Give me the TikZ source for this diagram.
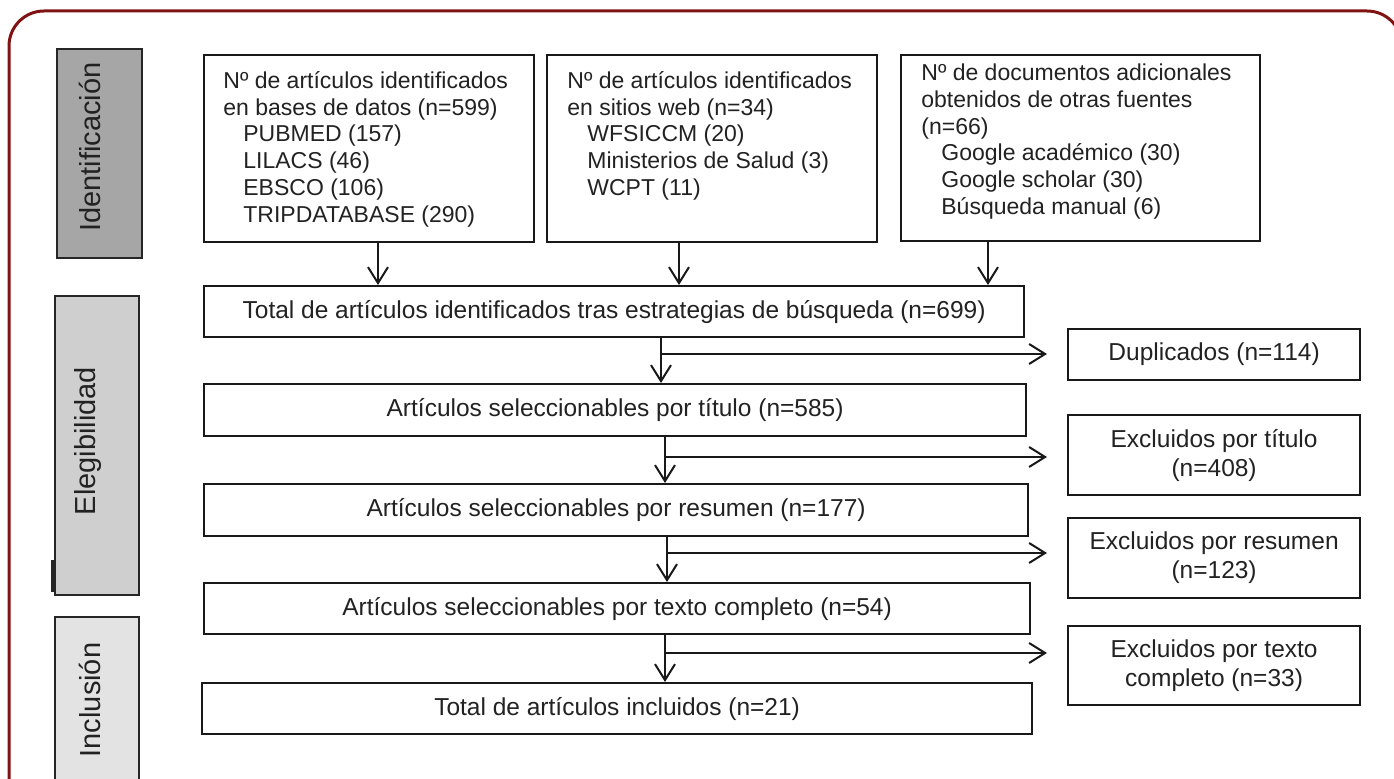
\documentclass[tikz,border=0pt]{standalone}
\usepackage{fontspec}
\setmainfont{Liberation Sans}
\usetikzlibrary{arrows.meta}
\definecolor{framered}{RGB}{128,18,18}
\definecolor{txt}{RGB}{34,34,34}
\definecolor{tabA}{RGB}{166,166,166}
\definecolor{tabB}{RGB}{207,207,207}
\definecolor{tabC}{RGB}{227,227,227}
\begin{document}
\begin{tikzpicture}[x=0.5pt,y=-0.5pt,
  box/.style={draw=black!90, line width=1.1pt, fill=white, inner sep=0pt, anchor=north west},
  srctext/.style={inner sep=0pt, text=txt, align=left, anchor=north west, font=\fontsize{11.5pt}{13.4pt}\selectfont},
  boxtext/.style={inner sep=0pt, text=txt, font=\fontsize{12.25pt}{14pt}\selectfont},
  rtext/.style={inner sep=0pt, text=txt, align=center, font=\fontsize{12.25pt}{14.5pt}\selectfont},
  tab/.style={draw=black!85, line width=1.1pt, inner sep=0pt, anchor=north west},
  tabtext/.style={rotate=90, inner sep=0pt, text=txt, font=\fontsize{14.5pt}{17pt}\selectfont},
  arr/.style={line width=1pt, draw=black!90, -{Straight Barb[length=8pt,width=10pt,line width=1pt]}},
]
\useasboundingbox (0,0) rectangle (1394,779);
\begin{scope}
  \clip (0,0) rectangle (1394,779);
  \draw[framered, line width=1.5pt, rounded corners=17.5pt] (9,11) rectangle (1402,830);
  \node[tab, fill=tabC, minimum width=42pt, minimum height=90pt] (inc) at (54,616) {};
\end{scope}
% phase tabs
\node[tab, fill=tabA, minimum width=42.5pt, minimum height=104.5pt] (ide) at (56,48) {};
\node[tab, fill=tabB, minimum width=42pt, minimum height=149.5pt] (ele) at (54,295) {};
\fill[black!85] (51,560) rectangle (55,592);
\node[tabtext] (ideT) at (90,147) {Identificación};
\node[tabtext] (eleT) at (88,441) {Elegibilidad};
\node[tabtext] (incT) at (90,700) {Inclusión};
% source boxes
\node[box, minimum width=165pt, minimum height=93.5pt] (A) at (203,54) {};
\node[box, minimum width=165pt, minimum height=93.5pt] (B) at (546,54) {};
\node[box, minimum width=179.5pt, minimum height=93pt] (C) at (900,54) {};
\node[srctext] (At) at (223,71)
  {Nº de artículos identificados\\en bases de datos (n=599)\\
   \hspace*{10pt}PUBMED (157)\\\hspace*{10pt}LILACS (46)\\
   \hspace*{10pt}EBSCO (106)\\\hspace*{10pt}TRIPDATABASE (290)};
\node[srctext] (Bt) at (567,71)
  {Nº de artículos identificados\\en sitios web (n=34)\\
   \hspace*{10pt}WFSICCM (20)\\\hspace*{10pt}Ministerios de Salud (3)\\
   \hspace*{10pt}WCPT (11)};
\node[srctext] (Ct) at (921,63.5)
  {Nº de documentos adicionales\\obtenidos de otras fuentes\\(n=66)\\
   \hspace*{10pt}Google académico (30)\\\hspace*{10pt}Google scholar (30)\\
   \hspace*{10pt}Búsqueda manual (6)};
% main chain
\node[box, minimum width=410pt, minimum height=25.5pt] (T) at (203,285) {};
\node[boxtext] (Tt) at (T.center) {Total de artículos identificados tras estrategias de búsqueda (n=699)};
\node[box, minimum width=411pt, minimum height=26pt] (S1) at (203,383) {};
\node[boxtext] (S1t) at (S1.center) {Artículos seleccionables por título (n=585)};
\node[box, minimum width=412pt, minimum height=26pt] (S2) at (203,483) {};
\node[boxtext] (S2t) at (S2.center) {Artículos seleccionables por resumen (n=177)};
\node[box, minimum width=413pt, minimum height=25.5pt] (S3) at (203,582) {};
\node[boxtext] (S3t) at (S3.center) {Artículos seleccionables por texto completo (n=54)};
\node[box, minimum width=415pt, minimum height=25.5pt] (I) at (201,682) {};
\node[boxtext] (It) at (I.center) {Total de artículos incluidos (n=21)};
% excluded boxes
\node[box, minimum width=146pt, minimum height=25.5pt] (D) at (1067,328) {};
\node[rtext] (Dt) at (D.center) {Duplicados (n=114)};
\node[box, minimum width=146pt, minimum height=40pt] (E1) at (1067,414) {};
\node[rtext] (E1t) at (E1.center) {Excluidos por título\\(n=408)};
\node[box, minimum width=146pt, minimum height=40pt] (E2) at (1067,517) {};
\node[rtext] (E2t) at (E2.center) {Excluidos por resumen\\(n=123)};
\node[box, minimum width=146pt, minimum height=39.5pt] (E3) at (1067,625) {};
\node[rtext] (E3t) at (E3.center) {Excluidos por texto\\completo (n=33)};
% arrows from sources
\coordinate (a1) at (378,241);
\coordinate (a2) at (679,241);
\coordinate (a3) at (988,241);
\draw[arr] (a1) -- (a1 |- T.north);
\draw[arr] (a2) -- (a2 |- T.north);
\draw[arr] (a3) -- (a3 |- T.north);
% chain arrows
\coordinate (v1) at (661,336);
\coordinate (v2) at (665,435);
\coordinate (v3) at (667,535);
\coordinate (v4) at (665,633);
\draw[arr] (v1) -- (v1 |- S1.north);
\draw[arr] (v2) -- (v2 |- S2.north);
\draw[arr] (v3) -- (v3 |- S3.north);
\draw[arr] (v4) -- (v4 |- I.north);
% branches
\coordinate (b1) at (661,354);
\coordinate (b2) at (665,457);
\coordinate (b3) at (667,553);
\coordinate (b4) at (665,653);
\draw[arr, shorten >=10pt] (b1) -- (b1 -| D.west);
\draw[arr, shorten >=10pt] (b2) -- (b2 -| E1.west);
\draw[arr, shorten >=10pt] (b3) -- (b3 -| E2.west);
\draw[arr, shorten >=10pt] (b4) -- (b4 -| E3.west);
\end{tikzpicture}
\end{document}
